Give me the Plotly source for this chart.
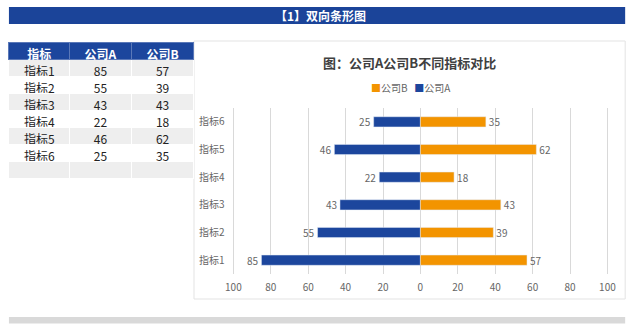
import plotly.graph_objects as go

categories = ["指标1", "指标2", "指标3", "指标4", "指标5", "指标6"]
company_a = [85, 55, 43, 22, 46, 25]
company_b = [57, 39, 43, 18, 62, 35]
tick_vals = [-100, -80, -60, -40, -20, 0, 20, 40, 60, 80, 100]
tick_text = ["100", "80", "60", "40", "20", "0", "20", "40", "60", "80", "100"]

W, H = 640, 332
FONT = "Noto Sans CJK SC"
BLUE = "#1c469d"
ORANGE = "#f39400"
GRAY_TXT = "#666666"


def px(x):
    return x / W


def py(y):
    return 1 - y / H


fig = go.Figure()

# Table
rows_a = [str(v) for v in company_a] + [""]
rows_b = [str(v) for v in company_b] + [""]
rows_c = categories + [""]
fills = ["#eeeeee" if i % 2 == 0 else "#ffffff" for i in range(len(rows_c))]
fig.add_trace(go.Table(
    domain=dict(x=[px(4), px(192)], y=[py(180), py(42)]),
    columnwidth=[61, 62, 63],
    header=dict(values=["指标", "公司A", "公司B"],
                fill_color=BLUE, line_color="#5a78b8",
                font=dict(family=FONT, size=12, color="white", weight="bold"),
                align="center", height=17),
    cells=dict(values=[rows_c, rows_a, rows_b],
               fill_color=[fills, fills, fills], line_color="#ffffff",
               font=dict(family=FONT, size=12, color="#222222"),
               align="center", height=17),
))

neg_a = [-v for v in company_a]
fig.add_trace(go.Bar(
    y=categories, x=neg_a, orientation="h", name="公司A", showlegend=False,
    marker=dict(color=BLUE), text=[str(v) for v in company_a],
    textposition="outside", constraintext="none",
    textfont=dict(family=FONT, size=10, color=GRAY_TXT),
    cliponaxis=False,
))
fig.add_trace(go.Bar(
    y=categories, x=company_b, orientation="h", name="公司B", showlegend=False,
    marker=dict(color=ORANGE), text=[str(v) for v in company_b],
    textposition="outside", constraintext="none",
    textfont=dict(family=FONT, size=10, color=GRAY_TXT),
    cliponaxis=False,
))

shapes = [
    dict(type="rect", xref="paper", yref="paper", x0=px(4), x1=px(630), y0=py(24), y1=py(7),
         fillcolor="#1b4499", line=dict(width=0), layer="below"),
    dict(type="rect", xref="paper", yref="paper", x0=px(192), x1=px(630), y0=py(299), y1=py(41),
         fillcolor="white", line=dict(color="#e3e3e3", width=1), layer="below"),
    dict(type="rect", xref="paper", yref="paper", x0=px(4), x1=px(630), y0=py(323.5), y1=py(317),
         fillcolor="#d9d9d9", line=dict(width=0), layer="below"),
]

legend_text = (f'<span style="color:{ORANGE}">■</span>公司B&nbsp;&nbsp;&nbsp;'
               f'<span style="color:{BLUE}">■</span>公司A')

annotations = [
    dict(text="<b>【1】双向条形图</b>", x=px(320), y=py(15.5), xref="paper", yref="paper",
         showarrow=False, font=dict(family=FONT, size=12, color="white"),
         xanchor="center", yanchor="middle"),
    dict(text="<b>图：公司A公司B不同指标对比</b>", x=px(411), y=py(62), xref="paper", yref="paper",
         showarrow=False, font=dict(family=FONT, size=13, color="#404040"),
         xanchor="center", yanchor="middle"),
    dict(text=legend_text, x=px(412), y=py(88), xref="paper", yref="paper",
         showarrow=False, font=dict(family=FONT, size=10, color=GRAY_TXT),
         xanchor="center", yanchor="middle"),
]

fig.update_layout(
    width=W, height=H, margin=dict(l=0, r=0, t=0, b=0),
    paper_bgcolor="white", plot_bgcolor="rgba(0,0,0,0)",
    barmode="relative", bargap=0.63,
    showlegend=False,
    xaxis=dict(domain=[px(228.2), px(615.8)], range=[-102, 102], tickvals=tick_vals,
               ticktext=tick_text, showgrid=True, gridcolor="#d9d9d9", gridwidth=1,
               zeroline=True, zerolinecolor="#d9d9d9", zerolinewidth=1,
               tickfont=dict(family=FONT, size=10, color=GRAY_TXT), ticks="",
               ticklabelstandoff=6, fixedrange=True),
    yaxis=dict(domain=[py(274), py(108)], showgrid=False, zeroline=False, ticks="",
               tickfont=dict(family=FONT, size=10, color=GRAY_TXT), ticklabelstandoff=4,
               fixedrange=True),
    shapes=shapes, annotations=annotations,
)

fig.write_html("out.html")
